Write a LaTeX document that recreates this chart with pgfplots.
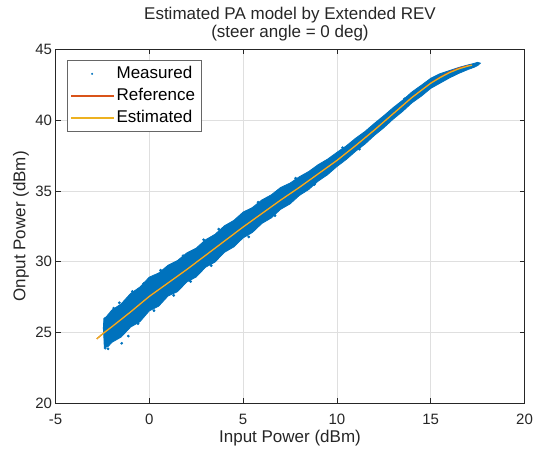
\documentclass[border=0pt]{standalone}
\usepackage{fontspec}
\setmainfont{Liberation Sans}
\usepackage{pgfplots}
\pgfplotsset{compat=1.18}
\definecolor{mblue}{RGB}{0,114,189}
\definecolor{morange}{RGB}{217,83,25}
\definecolor{myellow}{RGB}{237,177,32}
\definecolor{axc}{RGB}{38,38,38}
\definecolor{gridc}{RGB}{223,223,223}
\begin{document}
\begin{tikzpicture}
\begin{axis}[
 scale only axis, width=469pt, height=354pt,
 xmin=-5, xmax=20, ymin=20, ymax=45,
 xtick={-5,0,5,10,15,20}, ytick={20,25,30,35,40,45},
 grid=major, major grid style={gridc, line width=0.6pt},
 axis line style={axc, line width=0.6pt},
 tick style={axc, line width=0.6pt},
 tick align=inside, major tick length=5pt, tick pos=both,
 ticklabel style={font=\fontsize{15}{15}\selectfont, text=axc},
 /pgf/number format/assume math mode=true,
 xticklabel style={yshift=-7pt},
 xlabel={Input Power (dBm)}, ylabel={Onput Power (dBm)},
 label style={font=\fontsize{17}{17}\selectfont, text=axc},
 xlabel style={at={(axis description cs:0.5,-0.099)}, anchor=center},
 ylabel style={at={(axis description cs:-0.0736,0.5)}, anchor=center},
 title={Estimated PA model by Extended REV\\(steer angle = 0 deg)},
 title style={at={(axis description cs:0.5,1.054)}, anchor=center, align=center, font=\fontsize{17}{18}\selectfont, text=axc},
 legend style={at={(axis description cs:0.0252,0.9698)}, anchor=north west, draw=black!60, line width=0.6pt, fill=white, font=\fontsize{17}{17}\selectfont, inner xsep=3pt, inner ysep=2.5pt, row sep=0pt, nodes={inner sep=3pt, text height=12.5pt, text depth=3.5pt}},
 legend cell align=left,
]
% measured cloud (dense band)
\addplot[fill=mblue, draw=mblue, line width=0.8pt, forget plot] coordinates {
(-2.42,26.0) (-2.3,26.1) (-2.0,26.58) (-1.5,27.02) (-1.0,27.75) (-0.5,28.21) (0,28.91) (0.5,29.2) (1,29.75) (1.5,30.08) (2,30.62) (2.5,30.96) (3,31.55) (3.5,31.93) (4,32.53) (4.5,32.91) (5,33.5) (5.5,33.83) (6,34.36) (6.5,34.72) (7,35.24) (7.5,35.55) (8,36.0) (8.5,36.37) (9,36.85) (9.5,37.24) (10,37.72) (10.5,38.18) (11,38.72) (11.5,39.2) (12,39.77) (12.5,40.31) (13,40.88) (13.5,41.4) (14,41.99) (14.5,42.46) (15,42.95) (15.5,43.28) (16,43.5) (16.5,43.72) (17,43.9) (17.3,44.0) (17.5,44.08) (17.65,44.02)
(17.5,43.85) (17.3,43.72) (17,43.58) (16.5,43.3) (16,42.98) (15.5,42.61) (15,42.24) (14.5,41.69) (14,41.22) (13.5,40.61) (13,40.07) (12.5,39.46) (12,38.92) (11.5,38.31) (11,37.8) (10.5,37.22) (10,36.72) (9.5,36.14) (9,35.69) (8.5,35.1) (8,34.68) (7.5,34.08) (7,33.7) (6.5,33.09) (6,32.7) (5.5,32.07) (5,31.68) (4.5,31.04) (4,30.66) (3.5,29.97) (3,29.61) (2.5,28.92) (2,28.57) (1.5,27.88) (1,27.58) (0.5,26.86) (0,26.53) (-0.5,25.76) (-1,25.38) (-1.5,24.68) (-2,24.3) (-2.2,24.0) (-2.4,23.95) (-2.42,24.6) (-2.45,25.3) (-2.42,26.0)};
\addlegendimage{legend image code/.code={\fill[fill=mblue, draw=none] (21.5pt,0pt) circle (1.1pt);}}
\addlegendentry{Measured}
\addlegendimage{legend image code/.code={\fill[fill=morange, draw=none] (0pt,-0.8pt) rectangle (43pt,0.8pt);}}
\addlegendentry{Reference}
\addlegendimage{legend image code/.code={\fill[fill=myellow, draw=none] (0pt,-0.8pt) rectangle (43pt,0.8pt);}}
\addlegendentry{Estimated}
\addplot[only marks, mark=*, mark size=1.2pt, color=mblue, forget plot] coordinates {
(-1.47,24.24) (-1.12,24.75) (-1.6,27.1) (-2.2,23.85) (-2.35,23.9) (-0.6,25.62) (0.25,26.55) (1.3,27.62) (-0.3,28.45) (0.6,29.4) (2.2,28.6) (3.8,30.68) (1.8,30.42) (3.7,32.3) (5.8,34.2) (5.3,31.75) (8.8,35.45) (7.8,35.9) (-1.9,26.72) (-0.9,27.9) (2.9,31.55) (3.3,29.72) (6.7,33.25) (10.3,38.05) (11.2,37.95) (13.6,41.5)};
\addplot[draw=morange, line width=1.2pt, forget plot] coordinates {
(-2.8,24.55) (-2.4,25.0) (-2,25.4) (-1,26.45) (0,27.55) (1,28.5) (2,29.45) (3,30.45) (4,31.45) (5,32.45) (6,33.4) (7,34.35) (8,35.25) (9,36.2) (10,37.15) (11,38.2) (12,39.3) (13,40.45) (14,41.6) (15,42.62) (15.5,43.03) (16,43.4) (16.5,43.67) (17,43.85) (17.2,43.88)};
\addplot[draw=myellow, line width=1.2pt, forget plot] coordinates {
(-2.8,24.55) (-2.4,25.0) (-2,25.4) (-1,26.45) (0,27.55) (1,28.5) (2,29.45) (3,30.45) (4,31.45) (5,32.45) (6,33.4) (7,34.35) (8,35.25) (9,36.2) (10,37.15) (11,38.2) (12,39.3) (13,40.45) (14,41.6) (15,42.6) (15.5,43.0) (16,43.35) (16.5,43.62) (17,43.82) (17.2,43.87)};
\end{axis}
\pgfresetboundingbox
\path[use as bounding box] ([xshift=-55.5pt,yshift=-50.7pt]current axis.south west) rectangle ([xshift=478.5pt,yshift=403.3pt]current axis.south west);
\end{tikzpicture}
\end{document}
